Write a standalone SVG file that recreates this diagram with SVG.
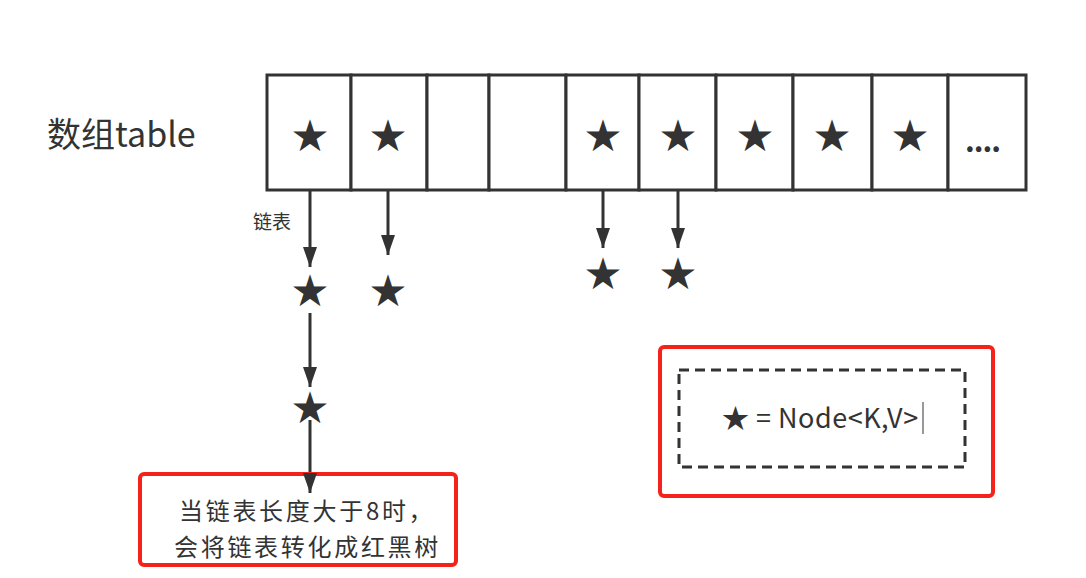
<svg xmlns="http://www.w3.org/2000/svg" width="1086" height="578" viewBox="0 0 1086 578">
<style>
.cell{fill:#fff;stroke:#333;stroke-width:3}
.star{font-family:"DejaVu Sans",sans-serif;font-size:44px;fill:#333;text-anchor:middle}
.ln{stroke:#333;stroke-width:3;fill:none}
.red{fill:#fff;stroke:#f5221b;stroke-width:4}
.cjk{font-family:"Noto Sans CJK SC","Liberation Sans",sans-serif;fill:#333}
.note{font-size:24px;letter-spacing:2.7px}
</style>
<defs>
<marker id="ah" viewBox="0 0 20 14" refX="20" refY="7" markerWidth="20" markerHeight="14" markerUnits="userSpaceOnUse" orient="auto">
<path d="M0,0 L20,7 L0,14 Z" fill="#333"/>
</marker>
</defs>
<rect width="1086" height="578" fill="#fff"/>
<g id="label-table"><text class="cjk" x="47" y="147" font-size="34">数组table</text></g>
<g id="array">
<rect class="cell" x="267" y="75" width="84" height="115"/>
<rect class="cell" x="351" y="75" width="76" height="115"/>
<rect class="cell" x="427" y="75" width="62" height="115"/>
<rect class="cell" x="489" y="75" width="77" height="115"/>
<rect class="cell" x="566" y="75" width="73" height="115"/>
<rect class="cell" x="639" y="75" width="77" height="115"/>
<rect class="cell" x="716" y="75" width="77" height="115"/>
<rect class="cell" x="793" y="75" width="79" height="115"/>
<rect class="cell" x="872" y="75" width="76" height="115"/>
<rect class="cell" x="948" y="75" width="78" height="115"/>
<text class="star" x="310" y="151">★</text>
<text class="star" x="388" y="151">★</text>
<text class="star" x="603" y="151">★</text>
<text class="star" x="678" y="151">★</text>
<text class="star" x="755" y="151">★</text>
<text class="star" x="832" y="151">★</text>
<text class="star" x="910" y="151">★</text>
<text class="cjk" x="965" y="152" font-size="30" font-weight="bold" letter-spacing="-1">....</text>
</g>
<g id="nodes">
<text class="star" x="310" y="306">★</text>
<text class="star" x="388" y="306">★</text>
<text class="star" x="310" y="423">★</text>
<text class="star" x="603" y="289">★</text>
<text class="star" x="678" y="289">★</text>
</g>
<g id="connectors">
<line class="ln" x1="310" y1="190" x2="310" y2="267" marker-end="url(#ah)"/>
<line class="ln" x1="388" y1="190" x2="388" y2="255" marker-end="url(#ah)"/>
<line class="ln" x1="310" y1="313" x2="310" y2="387" marker-end="url(#ah)"/>
<line class="ln" x1="310" y1="420" x2="310" y2="493" marker-end="url(#ah)"/>
<line class="ln" x1="603" y1="190" x2="603" y2="248" marker-end="url(#ah)"/>
<line class="ln" x1="678" y1="190" x2="678" y2="248" marker-end="url(#ah)"/>
<text class="cjk" x="253" y="229" font-size="19">链表</text>
</g>
<g id="note-tree">
<rect class="red" x="140" y="474" width="316" height="91" rx="4"/>
<line class="ln" x1="310" y1="474" x2="310" y2="493" marker-end="url(#ah)"/>
<text class="cjk note" x="179" y="520">当链表长度大于8时，</text>
<text class="cjk note" x="174" y="556">会将链表转化成红黑树</text>
</g>
<g id="legend">
<rect class="red" x="660" y="347" width="333" height="149" rx="4"/>
<rect x="679" y="370" width="286" height="97" fill="none" stroke="#333" stroke-width="3" stroke-dasharray="10,6"/>
<text class="cjk" x="722" y="428" font-size="27" letter-spacing="0.5">★ = Node&lt;K,V&gt;</text>
<line x1="923" y1="402" x2="923" y2="434" stroke="#333" stroke-width="1"/>
</g>
</svg>
